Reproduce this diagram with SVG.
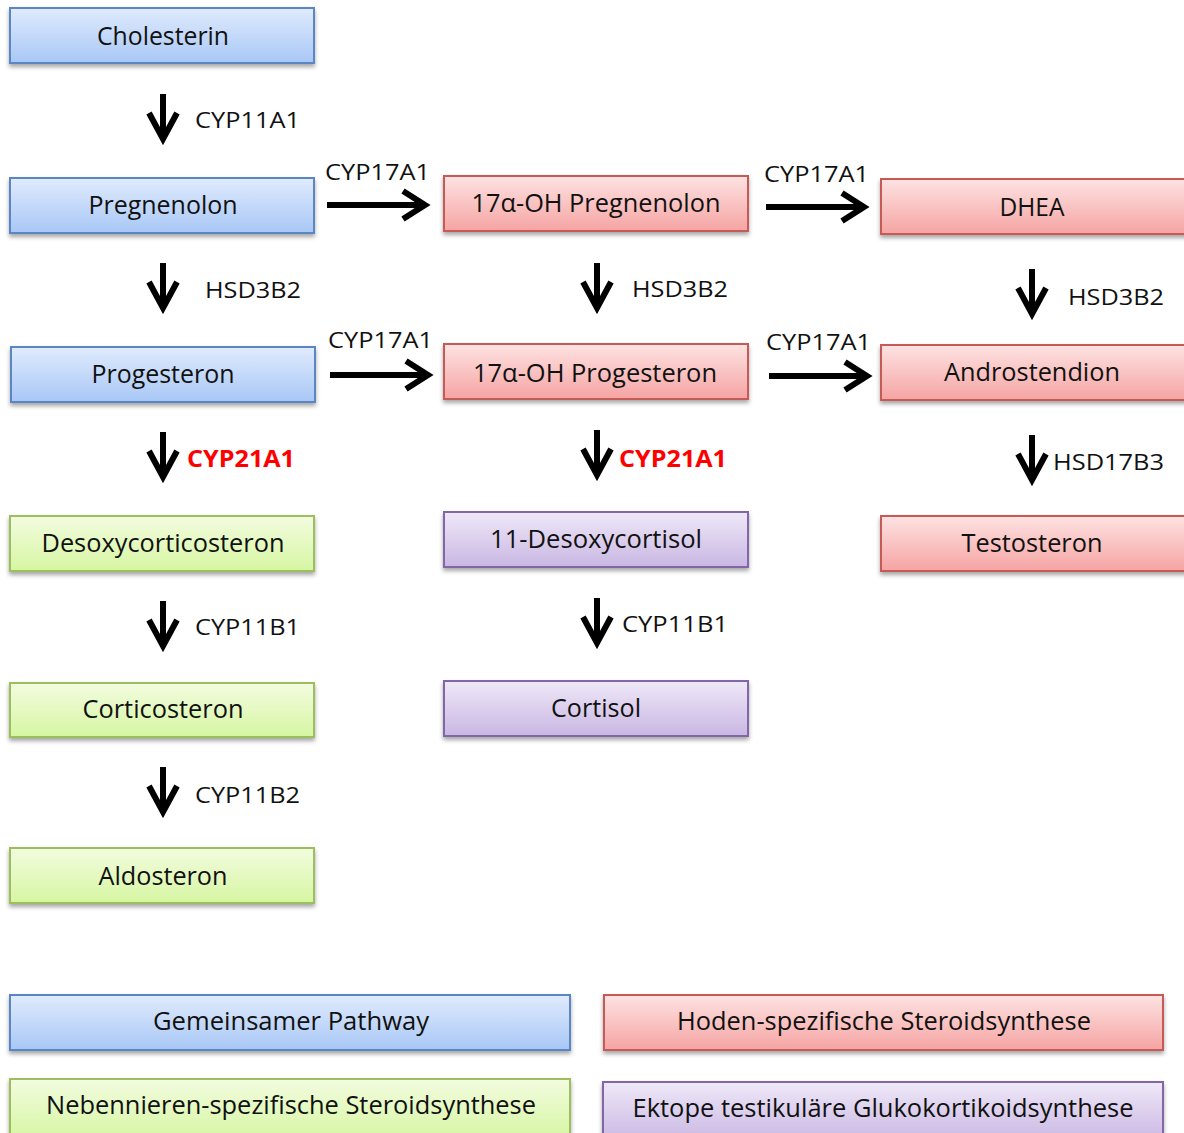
<svg xmlns="http://www.w3.org/2000/svg" xmlns:xlink="http://www.w3.org/1999/xlink" width="1184" height="1133" viewBox="0 0 1184 1133">
<defs>
<linearGradient id="gBlue" x1="0" y1="0" x2="0" y2="1"><stop offset="0" stop-color="#e0ebfd"/><stop offset="1" stop-color="#a8c7f6"/></linearGradient>
<linearGradient id="gRed" x1="0" y1="0" x2="0" y2="1"><stop offset="0" stop-color="#fde3e2"/><stop offset="1" stop-color="#f5a4a3"/></linearGradient>
<linearGradient id="gGreen" x1="0" y1="0" x2="0" y2="1"><stop offset="0" stop-color="#f3fce0"/><stop offset="1" stop-color="#d6f6a2"/></linearGradient>
<linearGradient id="gPurple" x1="0" y1="0" x2="0" y2="1"><stop offset="0" stop-color="#efe8f8"/><stop offset="1" stop-color="#c9b7e3"/></linearGradient>
<filter id="sh" x="-5%" y="-20%" width="110%" height="160%"><feDropShadow dx="0" dy="3" stdDeviation="2" flood-color="#000" flood-opacity="0.35"/></filter>
<g id="vArrow"><path d="M0,0 L0,44" class="ar"/><path d="M-14,19 L0,45 L14,19" class="ar"/></g>
<g id="hArrow"><path d="M0,0 L97,0" class="ar"/><path d="M76,-14 L98,0 L76,14" class="ar"/></g>
<style>
.ar{fill:none;stroke:#000;stroke-width:6;stroke-linejoin:miter;stroke-linecap:butt}
.box{stroke-width:2;filter:url(#sh)}
.blue{fill:url(#gBlue);stroke:#5a86c4}
.red{fill:url(#gRed);stroke:#c65a57}
.green{fill:url(#gGreen);stroke:#9dbe5c}
.purple{fill:url(#gPurple);stroke:#8366a8}
.t{font-family:"Open Sans","Noto Sans","DejaVu Sans",sans-serif;font-size:25px;fill:#111;text-anchor:middle}
.lb{font-family:"Open Sans","Noto Sans","DejaVu Sans",sans-serif;font-size:22px;fill:#111}
.rd{font-family:"Open Sans","Noto Sans","DejaVu Sans",sans-serif;font-size:23px;font-weight:bold;fill:#ff0000}
</style>
</defs>
<rect width="1184" height="1133" fill="#fff"/>

<g id="connectors">
<use xlink:href="#vArrow" x="163" y="94"/>
<use xlink:href="#vArrow" x="163" y="263"/>
<use xlink:href="#vArrow" x="163" y="432"/>
<use xlink:href="#vArrow" x="163" y="601"/>
<use xlink:href="#vArrow" x="163" y="767"/>
<use xlink:href="#vArrow" x="597" y="263"/>
<use xlink:href="#vArrow" x="597" y="430"/>
<use xlink:href="#vArrow" x="597" y="598"/>
<use xlink:href="#vArrow" x="1032" y="269"/>
<use xlink:href="#vArrow" x="1032" y="435"/>
<use xlink:href="#hArrow" x="327" y="205"/>
<use xlink:href="#hArrow" x="766" y="207"/>
<use xlink:href="#hArrow" x="330" y="375"/>
<use xlink:href="#hArrow" x="769" y="376"/>
<text class="lb" x="195" y="128" textLength="105" lengthAdjust="spacingAndGlyphs">CYP11A1</text>
<text class="lb" x="325" y="180" textLength="105" lengthAdjust="spacingAndGlyphs">CYP17A1</text>
<text class="lb" x="764" y="182" textLength="105" lengthAdjust="spacingAndGlyphs">CYP17A1</text>
<text class="lb" x="205" y="298" textLength="96" lengthAdjust="spacingAndGlyphs">HSD3B2</text>
<text class="lb" x="632" y="297" textLength="96" lengthAdjust="spacingAndGlyphs">HSD3B2</text>
<text class="lb" x="1068" y="305" textLength="96" lengthAdjust="spacingAndGlyphs">HSD3B2</text>
<text class="lb" x="328" y="348" textLength="105" lengthAdjust="spacingAndGlyphs">CYP17A1</text>
<text class="lb" x="766" y="350" textLength="105" lengthAdjust="spacingAndGlyphs">CYP17A1</text>
<text class="rd" x="187" y="467" textLength="108" lengthAdjust="spacingAndGlyphs">CYP21A1</text>
<text class="rd" x="619" y="467" textLength="108" lengthAdjust="spacingAndGlyphs">CYP21A1</text>
<text class="lb" x="1053" y="470" textLength="111" lengthAdjust="spacingAndGlyphs">HSD17B3</text>
<text class="lb" x="195" y="635" textLength="105" lengthAdjust="spacingAndGlyphs">CYP11B1</text>
<text class="lb" x="622" y="632" textLength="106" lengthAdjust="spacingAndGlyphs">CYP11B1</text>
<text class="lb" x="195" y="803" textLength="105" lengthAdjust="spacingAndGlyphs">CYP11B2</text>
</g>

<g id="n-cholesterin"><rect class="box blue" x="10" y="8" width="304" height="55"/><text class="t" x="163" y="45" textLength="132" lengthAdjust="spacingAndGlyphs">Cholesterin</text></g>
<g id="n-pregnenolon"><rect class="box blue" x="10" y="178" width="304" height="55"/><text class="t" x="163" y="214" textLength="149" lengthAdjust="spacingAndGlyphs">Pregnenolon</text></g>
<g id="n-progesteron"><rect class="box blue" x="11" y="347" width="304" height="55"/><text class="t" x="163" y="383" textLength="143" lengthAdjust="spacingAndGlyphs">Progesteron</text></g>
<g id="n-desoxycorticosteron"><rect class="box green" x="10" y="516" width="304" height="55"/><text class="t" x="163" y="552" textLength="243" lengthAdjust="spacingAndGlyphs">Desoxycorticosteron</text></g>
<g id="n-corticosteron"><rect class="box green" x="10" y="683" width="304" height="54"/><text class="t" x="163" y="718" textLength="161" lengthAdjust="spacingAndGlyphs">Corticosteron</text></g>
<g id="n-aldosteron"><rect class="box green" x="10" y="848" width="304" height="55"/><text class="t" x="163" y="885" textLength="129" lengthAdjust="spacingAndGlyphs">Aldosteron</text></g>

<g id="n-17oh-pregnenolon"><rect class="box red" x="444" y="176" width="304" height="55"/><text class="t" x="596" y="212" textLength="249" lengthAdjust="spacingAndGlyphs">17α-OH Pregnenolon</text></g>
<g id="n-17oh-progesteron"><rect class="box red" x="444" y="344" width="304" height="55"/><text class="t" x="595" y="382" textLength="244" lengthAdjust="spacingAndGlyphs">17α-OH Progesteron</text></g>
<g id="n-11-desoxycortisol"><rect class="box purple" x="444" y="512" width="304" height="55"/><text class="t" x="596" y="548" textLength="212" lengthAdjust="spacingAndGlyphs">11-Desoxycortisol</text></g>
<g id="n-cortisol"><rect class="box purple" x="444" y="681" width="304" height="55"/><text class="t" x="596" y="717" textLength="90" lengthAdjust="spacingAndGlyphs">Cortisol</text></g>

<g id="n-dhea"><rect class="box red" x="881" y="179" width="310" height="55"/><text class="t" x="1032" y="216" textLength="65" lengthAdjust="spacingAndGlyphs">DHEA</text></g>
<g id="n-androstendion"><rect class="box red" x="881" y="345" width="310" height="55"/><text class="t" x="1032" y="381" textLength="176" lengthAdjust="spacingAndGlyphs">Androstendion</text></g>
<g id="n-testosteron"><rect class="box red" x="881" y="516" width="310" height="55"/><text class="t" x="1032" y="552" textLength="141" lengthAdjust="spacingAndGlyphs">Testosteron</text></g>

<g id="legend-gemeinsam"><rect class="box blue" x="10" y="995" width="560" height="55"/><text class="t" x="291" y="1030" textLength="276" lengthAdjust="spacingAndGlyphs">Gemeinsamer Pathway</text></g>
<g id="legend-hoden"><rect class="box red" x="604" y="995" width="559" height="55"/><text class="t" x="884" y="1030" textLength="414" lengthAdjust="spacingAndGlyphs">Hoden-spezifische Steroidsynthese</text></g>
<g id="legend-nebennieren"><rect class="box green" x="10" y="1079" width="560" height="60"/><text class="t" x="291" y="1114" textLength="490" lengthAdjust="spacingAndGlyphs">Nebennieren-spezifische Steroidsynthese</text></g>
<g id="legend-ektop"><rect class="box purple" x="603" y="1082" width="560" height="60"/><text class="t" x="883" y="1117" textLength="501" lengthAdjust="spacingAndGlyphs">Ektope testikuläre Glukokortikoidsynthese</text></g>
</svg>
